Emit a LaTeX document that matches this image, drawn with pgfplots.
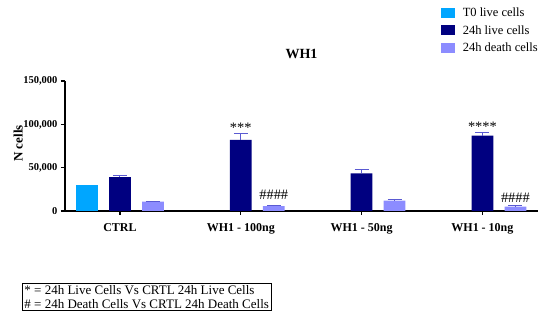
\documentclass[border=0pt]{standalone}
\usepackage{fontspec}
\setmainfont{Liberation Serif}
\usepackage{pgfplots}
\pgfplotsset{compat=1.18}
\definecolor{tzero}{RGB}{0,166,255}
\definecolor{live}{RGB}{0,0,128}
\definecolor{death}{RGB}{140,140,255}
\definecolor{errc}{RGB}{90,90,210}
\begin{document}
\begin{tikzpicture}
\useasboundingbox (0,0) rectangle (550pt,326pt);
\begin{axis}[
  at={(65pt,115pt)}, anchor=south west,
  scale only axis, width=473pt, height=130pt,
  xmin=-0.455, xmax=3.46, ymin=0, ymax=150000,
  axis lines*=left,
  axis line style={-, line width=1.3pt},
  xtick={0,1,2,3},
  xticklabels={CTRL, WH1 - 100ng, WH1 - 50ng, WH1 - 10ng},
  ytick={0,50000,100000,150000},
  tick align=outside, major tick length=4pt,
  tick style={black, line width=1.3pt},
  xticklabel style={font=\bfseries\fontsize{12}{14}\selectfont, yshift=-5pt},
  yticklabel style={font=\bfseries\fontsize{10.5}{12}\selectfont, /pgf/number format/.cd, fixed, 1000 sep={,}},
  /pgf/number format/assume math mode=true,
  scaled y ticks=false,
  ylabel={\bfseries N cells},
  ylabel style={at={(axis description cs:-0.099,0.52)}, anchor=center, font=\fontsize{13}{15}\selectfont},
  title={\bfseries WH1},
  title style={at={(axis description cs:0.5,1.161)}, anchor=center, font=\fontsize{14}{16}\selectfont},
  ybar, bar width=0.18,
  legend style={at={(axis description cs:0.794,1.577)}, anchor=north west, draw=none, fill=none, font=\fontsize{12.5}{14}\selectfont, row sep=3pt,
    inner sep=0pt, nodes={inner sep=2pt}},
  legend cell align=left,
  legend image code/.code={\fill[#1] (0pt,-5pt) rectangle (14pt,5pt); \path (20pt,0pt);},
  error bars/error bar style={line width=1pt, errc},
  error bars/error mark options={rotate=90, mark size=7pt, line width=1pt, errc},
]
\addplot[fill=tzero, draw=none, bar shift=-0.273] coordinates {(0,30000)};
\addlegendentry{T0 live cells}
\addplot[fill=live, draw=none, bar shift=0, error bars/.cd, y dir=plus, y explicit]
  coordinates {(0,39000) +- (0,1500) (1,82000) +- (0,7000) (2,43500) +- (0,4000) (3,87000) +- (0,3500)};
\addlegendentry{24h live cells}
\addplot[fill=death, draw=none, bar shift=0.273, error bars/.cd, y dir=plus, y explicit]
  coordinates {(0,10800) +- (0,500) (1,5700) +- (0,1200) (2,12000) +- (0,1000) (3,5000) +- (0,800)};
\addlegendentry{24h death cells}
\node[anchor=south, font=\Large, inner sep=1pt] at (axis cs:1,89000) {***};
\node[anchor=south, font=\Large, inner sep=1pt] at (axis cs:3,90500) {****};
\node[anchor=south, font=\Large, inner sep=1pt] at (axis cs:1.273,12000) {\#\#\#\#};
\node[anchor=south, font=\Large, inner sep=1pt] at (axis cs:3.273,8500) {\#\#\#\#};
\end{axis}
\node[draw, line width=0.9pt, anchor=west, align=left, font=\fontsize{13}{14}\selectfont, inner sep=2pt] at (22pt,29pt)
  {* = 24h Live Cells Vs CRTL 24h Live Cells\\\# = 24h Death Cells Vs CRTL 24h Death Cells};
\end{tikzpicture}
\end{document}
